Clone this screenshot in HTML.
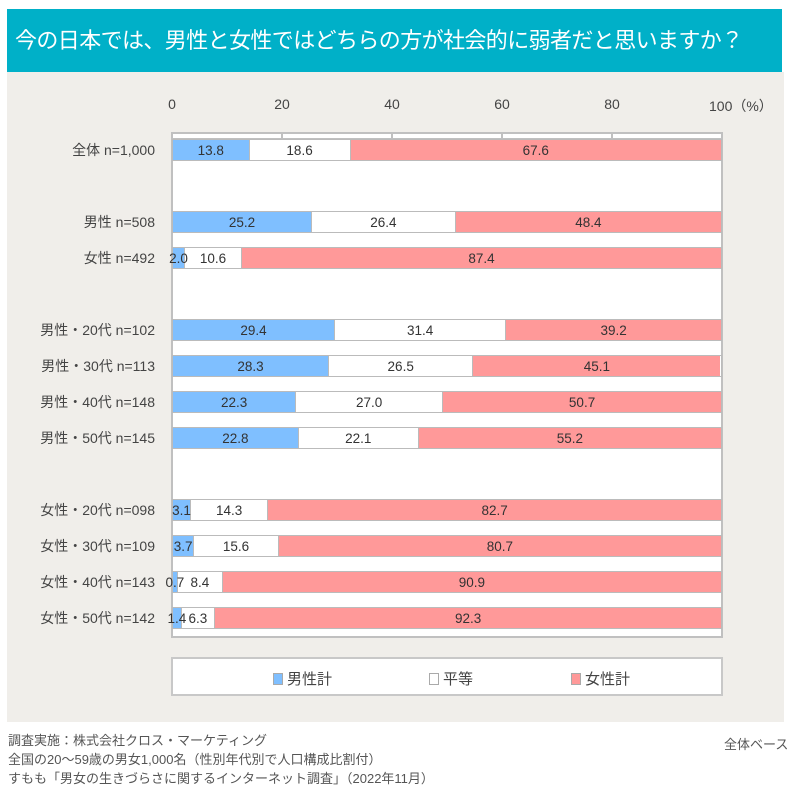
<!DOCTYPE html>
<html><head><meta charset="utf-8"><style>
*{margin:0;padding:0;box-sizing:border-box}
body{width:790px;height:790px;background:#fff;position:relative;font-family:"Liberation Sans","Noto Sans CJK JP",sans-serif;color:#444;overflow:hidden}
.title{position:absolute;left:7px;top:9px;width:775px;height:63px;background:#00b0c8;color:#fff;font-size:22px;letter-spacing:-0.6px;line-height:63px;padding-left:8px;white-space:nowrap;overflow:hidden}
.bg{position:absolute;left:7px;top:72px;width:777px;height:650px;background:#f0eeea}
.plot{position:absolute;left:171px;top:132px;width:552px;height:506px;background:#fff;border:2px solid #c0c0c0}
.tick{position:absolute;top:96px;font-size:14px;transform:translateX(-50%)}
.lab{position:absolute;right:635px;font-size:14px;white-space:nowrap;line-height:22px}
.bar{position:absolute;left:172px;width:550px;height:22px;display:flex;border:1px solid #bbb}
.bar div{height:100%;display:flex;justify-content:center;align-items:center;font-size:13.5px;color:#333;white-space:nowrap;overflow:visible}
.m{background:#7fbfff;position:relative;z-index:2}.e{background:#fff;border-left:1px solid #bbb;border-right:1px solid #bbb}.f{background:#ff9999}
.leg{position:absolute;left:171px;top:657px;width:552px;height:39px;background:#fff;border:2px solid #c8c8c8;font-size:15px}
.li{position:absolute;top:9px;display:flex;align-items:center}
.sw{width:10px;height:12px;margin-right:4px;border:1px solid #aaa}
.foot{position:absolute;left:8px;top:731px;font-size:13px;line-height:19px;color:#555;white-space:nowrap}
.hline{position:absolute;left:171px;top:132px;width:552px;height:8px;border-bottom:2px solid #c0c0c0}
.vt{position:absolute;top:132px;width:2px;height:8px;background:#c0c0c0}
</style></head><body>
<div class="title">今の日本では、男性と女性ではどちらの方が社会的に弱者だと思いますか？</div>
<div class="bg"></div>
<div class="plot"></div>
<div class="hline"></div>
<div class="vt" style="left:281px"></div><div class="vt" style="left:391px"></div><div class="vt" style="left:501px"></div><div class="vt" style="left:611px"></div>
<div class="tick" style="left:172px">0</div>
<div class="tick" style="left:282px">20</div>
<div class="tick" style="left:392px">40</div>
<div class="tick" style="left:502px">60</div>
<div class="tick" style="left:612px">80</div>
<div class="tick" style="transform:none;left:709px;white-space:nowrap">100（%）</div>

<div class="lab" style="top:139px">全体 n=1,000</div>
<div class="bar" style="top:139px"><div class="m" style="width:13.8%">13.8</div><div class="e" style="width:18.6%">18.6</div><div class="f" style="width:67.6%">67.6</div></div>
<div class="lab" style="top:211px">男性 n=508</div>
<div class="bar" style="top:211px"><div class="m" style="width:25.2%">25.2</div><div class="e" style="width:26.4%">26.4</div><div class="f" style="width:48.4%">48.4</div></div>
<div class="lab" style="top:247px">女性 n=492</div>
<div class="bar" style="top:247px"><div class="m" style="width:2.0%">2.0</div><div class="e" style="width:10.6%">10.6</div><div class="f" style="width:87.4%">87.4</div></div>
<div class="lab" style="top:319px">男性・20代 n=102</div>
<div class="bar" style="top:319px"><div class="m" style="width:29.4%">29.4</div><div class="e" style="width:31.4%">31.4</div><div class="f" style="width:39.2%">39.2</div></div>
<div class="lab" style="top:355px">男性・30代 n=113</div>
<div class="bar" style="top:355px"><div class="m" style="width:28.3%">28.3</div><div class="e" style="width:26.5%">26.5</div><div class="f" style="width:45.1%">45.1</div></div>
<div class="lab" style="top:391px">男性・40代 n=148</div>
<div class="bar" style="top:391px"><div class="m" style="width:22.3%">22.3</div><div class="e" style="width:27.0%">27.0</div><div class="f" style="width:50.7%">50.7</div></div>
<div class="lab" style="top:427px">男性・50代 n=145</div>
<div class="bar" style="top:427px"><div class="m" style="width:22.8%">22.8</div><div class="e" style="width:22.1%">22.1</div><div class="f" style="width:55.2%">55.2</div></div>
<div class="lab" style="top:499px">女性・20代 n=098</div>
<div class="bar" style="top:499px"><div class="m" style="width:3.1%">3.1</div><div class="e" style="width:14.3%">14.3</div><div class="f" style="width:82.7%">82.7</div></div>
<div class="lab" style="top:535px">女性・30代 n=109</div>
<div class="bar" style="top:535px"><div class="m" style="width:3.7%">3.7</div><div class="e" style="width:15.6%">15.6</div><div class="f" style="width:80.7%">80.7</div></div>
<div class="lab" style="top:571px">女性・40代 n=143</div>
<div class="bar" style="top:571px"><div class="m" style="width:0.7%">0.7</div><div class="e" style="width:8.4%">8.4</div><div class="f" style="width:90.9%">90.9</div></div>
<div class="lab" style="top:607px">女性・50代 n=142</div>
<div class="bar" style="top:607px"><div class="m" style="width:1.4%">1.4</div><div class="e" style="width:6.3%">6.3</div><div class="f" style="width:92.3%">92.3</div></div>

<div class="leg">
<div class="li" style="left:100px"><span class="sw" style="background:#7fbfff"></span>男性計</div>
<div class="li" style="left:256px"><span class="sw" style="background:#fff"></span>平等</div>
<div class="li" style="left:398px"><span class="sw" style="background:#ff9999"></span>女性計</div>
</div>
<div class="foot">調査実施：株式会社クロス・マーケティング<br>全国の20～59歳の男女1,000名（性別年代別で人口構成比割付）<br>すもも「男女の生きづらさに関するインターネット調査」（2022年11月）</div>
<div style="position:absolute;left:724px;top:734px;font-size:13px;color:#555;white-space:nowrap">全体ベース</div>
</body></html>
